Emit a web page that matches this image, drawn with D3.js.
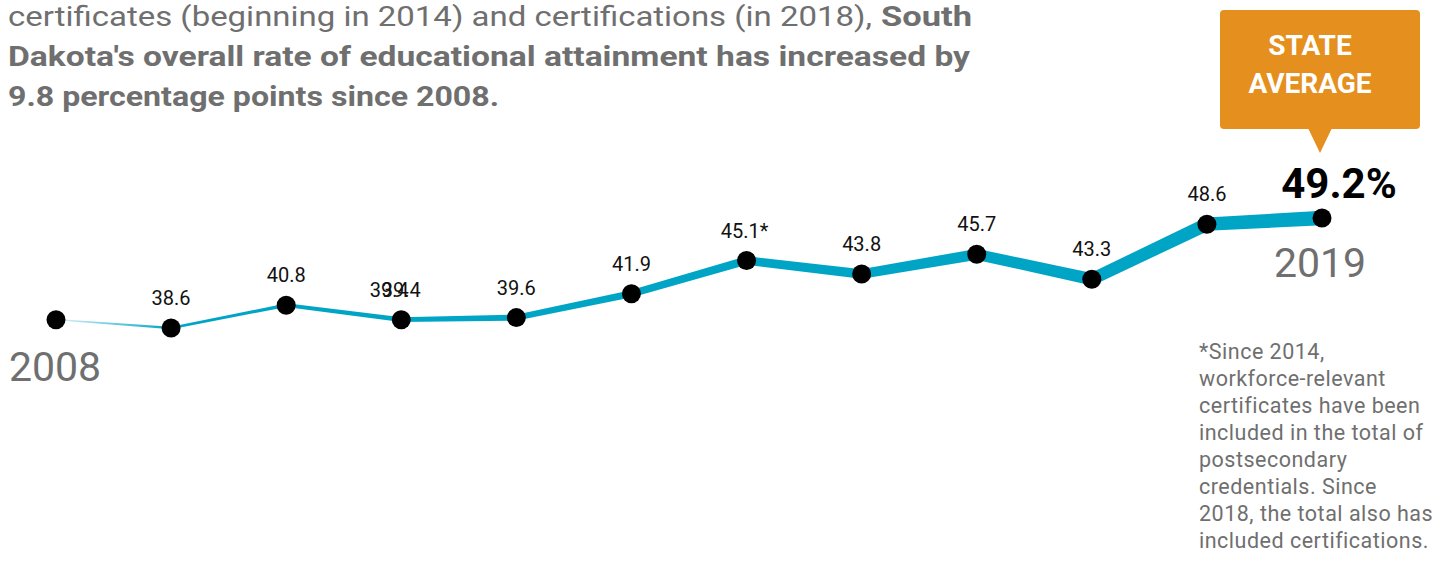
<!DOCTYPE html>
<html><head><meta charset="utf-8">
<script src="https://cdn.jsdelivr.net/npm/d3@7"></script>
<style>
html,body{margin:0;padding:0;background:#fff;}
svg{display:block;}
</style>
</head><body>
<svg id="c" width="1442" height="568"></svg>
<script>
const years = [2008,2009,2010,2011,2012,2013,2014,2015,2016,2017,2018,2019];
const values = [39.4,38.6,40.8,39.4,39.6,41.9,45.1,43.8,45.7,43.3,48.6,49.2];
const valueLabels = ["", "38.6","40.8","39.4","39.6","41.9","45.1*","43.8","45.7","43.3","48.6",""];
const headerLines = [
  ["certificates (beginning in 2014) and certifications (in 2018), ", "South"],
  ["Dakota's overall rate of educational attainment has increased by"],
  ["9.8 percentage points since 2008."]
];
const footnote = ["*Since 2014,","workforce-relevant","certificates have been","included in the total of","postsecondary","credentials. Since","2018, the total also has","included certifications."];
const calloutLines = ["STATE","AVERAGE"];

const svg = d3.select("#c");
const gray = "#6f6f6f", teal = "#00a5c6", orange = "#e58f1e";
const font = "Roboto, 'Noto Sans', sans-serif";

const x = d3.scalePoint().domain(years).range([56, 1322]);
const y = d3.scaleLinear().domain([38.6, 49.2]).range([328, 218]);
const w = d3.scaleLinear().domain([0, years.length-1]).range([1.2, 14.5]);

// Header text (condensed face approximated by fitting lengths)
const hdr = [
  [{t:headerLines[0][0], b:false, x0:8, len:864, yb:26}, {t:headerLines[0][1], b:true, x0:881, len:91, yb:26}],
  [{t:headerLines[1][0], b:true, x0:8, len:962, yb:66}],
  [{t:headerLines[2][0], b:true, x0:8, len:491, yb:106}]
];
hdr.forEach(line => line.forEach(p => {
  svg.append("text").attr("x", p.x0).attr("y", p.yb)
    .attr("font-family", "'Liberation Sans Narrow', " + font).attr("font-size", 28)
    .attr("font-weight", p.b ? 700 : 400).attr("fill", gray)
    .attr("textLength", p.len).attr("lengthAdjust", "spacingAndGlyphs")
    .text(p.t);
}));

// gradient for first segment
const defs = svg.append("defs");
const grad = defs.append("linearGradient").attr("id","g0")
  .attr("gradientUnits","userSpaceOnUse")
  .attr("x1", x(years[0])).attr("x2", x(years[1])).attr("y1",0).attr("y2",0);
grad.append("stop").attr("offset","0%").attr("stop-color", teal).attr("stop-opacity", 0.15);
grad.append("stop").attr("offset","100%").attr("stop-color", teal).attr("stop-opacity", 1);

// tapered ribbon segments
const pts = years.map((yr,i) => ({x: x(yr), y: y(values[i]), w: w(i)}));
for (let i = 0; i < pts.length-1; i++) {
  const a = pts[i], b = pts[i+1];
  const dx = b.x - a.x, dy = b.y - a.y, L = Math.hypot(dx,dy);
  const nx = -dy/L, ny = dx/L;
  const p = d3.path();
  p.moveTo(a.x + nx*a.w/2, a.y + ny*a.w/2);
  p.lineTo(b.x + nx*b.w/2, b.y + ny*b.w/2);
  p.lineTo(b.x - nx*b.w/2, b.y - ny*b.w/2);
  p.lineTo(a.x - nx*a.w/2, a.y - ny*a.w/2);
  p.closePath();
  svg.append("path").attr("d", p.toString()).attr("fill", i === 0 ? "url(#g0)" : teal);
}

// dots
svg.selectAll("circle.dot").data(pts).join("circle")
  .attr("class","dot").attr("cx", d => d.x).attr("cy", d => d.y).attr("r", 9.5).attr("fill", "#000");

// value labels
svg.selectAll("text.vl").data(years).join("text")
  .attr("class","vl")
  .attr("x", (d,i) => x(d) + (valueLabels[i].endsWith("*") ? -2 : 0))
  .attr("y", (d,i) => y(values[i]) - 23)
  .attr("text-anchor","middle").attr("font-family", font).attr("font-size", 20)
  .attr("fill", "#111").text((d,i) => valueLabels[i]);
// the 2008 label is drawn overlapping near 2011 in the source
svg.append("text").attr("x", x(2011) - 12).attr("y", y(values[3]) - 23)
  .attr("text-anchor","middle").attr("font-family", font).attr("font-size", 20)
  .attr("fill", "#111").text(d3.format(".1f")(values[0]));

// end label
svg.append("text").attr("x", x(2019) + 17).attr("y", y(values[11]) - 20)
  .attr("text-anchor","middle").attr("font-family", font).attr("font-size", 42)
  .attr("font-weight", 700).attr("fill", "#000")
  .text(d3.format(".1f")(values[11]) + "%");

// year labels
svg.append("text").attr("x", x(2008) - 1).attr("y", 381).attr("text-anchor","middle")
  .attr("font-family", font).attr("font-size", 41).attr("fill", gray).text(years[0]);
svg.append("text").attr("x", x(2019) - 2).attr("y", 277).attr("text-anchor","middle")
  .attr("font-family", font).attr("font-size", 41).attr("fill", gray).text(years[11]);

// callout
svg.append("rect").attr("x", 1220).attr("y", 10).attr("width", 200).attr("height", 119)
  .attr("rx", 4).attr("fill", orange);
svg.append("path").attr("d", "M1308,128 L1332,128 L1320,153 Z").attr("fill", orange);
calloutLines.forEach((t,i) => {
  svg.append("text").attr("x", 1310).attr("y", 55 + i*38).attr("text-anchor","middle")
    .attr("font-family", font).attr("font-size", 28).attr("font-weight", 700)
    .attr("fill", "#fff").text(t);
});

// footnote
footnote.forEach((t,i) => {
  svg.append("text").attr("x", 1199).attr("y", 359 + i*27)
    .attr("font-family", font).attr("font-size", 21.5).attr("fill", gray)
    .attr("letter-spacing", 0.5).text(t);
});
</script>
</body></html>
